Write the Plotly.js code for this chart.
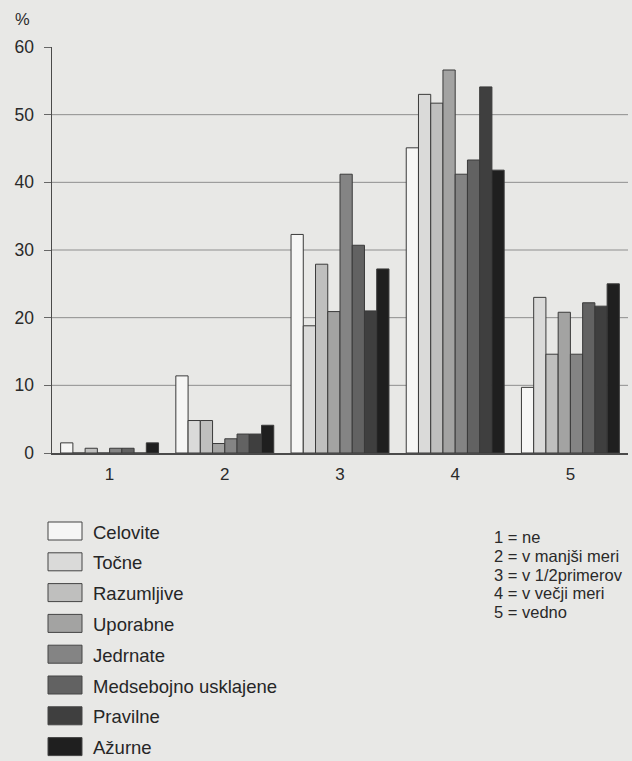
<!DOCTYPE html>
<html>
<head>
<meta charset="utf-8">
<script src="https://cdn.plot.ly/plotly-3.0.1.min.js"></script>
<style>
html,body{margin:0;padding:0;background:#e8e8e6;}
#chart{width:632px;height:761px;}
</style>
</head>
<body>
<div id="chart"></div>
<script>
// Data
const categories = ["1", "2", "3", "4", "5"];
const seriesNames = ["Celovite", "Točne", "Razumljive", "Uporabne", "Jedrnate", "Medsebojno usklajene", "Pravilne", "Ažurne"];
const celovite   = [1.5, 11.4, 32.3, 45.1, 9.7];
const tocne      = [0,   4.8, 18.8, 53.0, 23.0];
const razumljive = [0.7, 4.8, 27.9, 51.7, 14.6];
const uporabne   = [0,   1.4, 20.9, 56.6, 20.8];
const jedrnate   = [0.7, 2.1, 41.2, 41.2, 14.6];
const medsebojno = [0.7, 2.8, 30.7, 43.3, 22.2];
const pravilne   = [0,   2.8, 21.0, 54.1, 21.7];
const azurne     = [1.5, 4.1, 27.2, 41.8, 25.0];
const yTicks = [0, 10, 20, 30, 40, 50, 60];
const scaleNotes = ["1 = ne", "2 = v manjši meri", "3 = v 1/2primerov", "4 = v večji meri", "5 = vedno"];

const seriesValues = [celovite, tocne, razumljive, uporabne, jedrnate, medsebojno, pravilne, azurne];
const colors = ["#f6f6f5", "#dadad9", "#bfbfbe", "#a3a3a2", "#848484", "#626262", "#3f3f3f", "#1f1f1f"];

const W = 632, H = 761;
const ML = 52, MR = 4, MT = 47, MB = 308;
const PW = W - ML - MR, PH = H - MT - MB;
const px2x = px => (px - ML) / PW;
const py2y = py => (H - MB - py) / PH;

const traces = seriesNames.map((name, i) => ({
  type: "bar",
  name: name,
  x: categories,
  y: seriesValues[i],
  marker: {color: colors[i], line: {color: "#3a3a3a", width: 1}},
  showlegend: false,
  hoverinfo: "x+y+name"
}));

const shapes = [];
const annotations = [];

// gridlines (no gridline at the top value)
yTicks.filter(v => v > 0 && v < 60).forEach(v => {
  shapes.push({type: "line", xref: "paper", yref: "y", x0: 0, x1: 1, y0: v, y1: v,
    line: {color: "#8e8e8e", width: 1}, layer: "below"});
});

// custom legend
const font = "Arial, 'Liberation Sans', Helvetica, sans-serif";
seriesNames.forEach((name, i) => {
  const cy = 531 + 30.8 * i;
  shapes.push({type: "rect", xref: "paper", yref: "paper",
    x0: px2x(48), x1: px2x(82), y0: py2y(cy + 9), y1: py2y(cy - 9),
    fillcolor: colors[i], line: {color: "#444", width: 1}});
  annotations.push({xref: "paper", yref: "paper", x: px2x(91), y: py2y(cy + 1),
    xanchor: "left", yanchor: "middle", showarrow: false, text: name,
    font: {family: font, size: 18.5, color: "#262626"}});
});

// scale notes
scaleNotes.forEach((t, i) => {
  annotations.push({xref: "paper", yref: "paper", x: px2x(492), y: py2y(537 + 18.8 * i),
    xanchor: "left", yanchor: "middle", showarrow: false, text: t,
    font: {family: font, size: 16.5, color: "#2a2a2a"}});
});

// % unit label
annotations.push({xref: "paper", yref: "paper", x: px2x(22), y: py2y(19),
  xanchor: "center", yanchor: "middle", showarrow: false, text: "%",
  font: {family: font, size: 16.5, color: "#2a2a2a"}});

const layout = {
  width: W, height: H,
  margin: {l: ML, r: MR, t: MT, b: MB, pad: 0},
  paper_bgcolor: "#e8e8e6",
  plot_bgcolor: "rgba(0,0,0,0)",
  barmode: "group",
  bargap: 0.15,
  bargroupgap: 0,
  showlegend: false,
  xaxis: {
    type: "category",
    range: [-0.5, 4.5],
    showgrid: false,
    showline: true, linecolor: "#4a4a4a", linewidth: 1.5,
    ticks: "", ticklabelstandoff: 5,
    tickfont: {family: font, size: 17, color: "#2a2a2a"},
    zeroline: false, fixedrange: true
  },
  yaxis: {
    range: [0, 60],
    tickvals: yTicks,
    showgrid: false,
    zeroline: false,
    showline: true, linecolor: "#4a4a4a", linewidth: 1.5,
    ticks: "outside", ticklen: 7, tickcolor: "#666", tickwidth: 1,
    ticklabelstandoff: 6,
    tickfont: {family: font, size: 17.5, color: "#2a2a2a"},
    fixedrange: true
  },
  shapes: shapes,
  annotations: annotations
};

Plotly.newPlot("chart", traces, layout, {displayModeBar: false, staticPlot: true});
</script>
</body>
</html>
